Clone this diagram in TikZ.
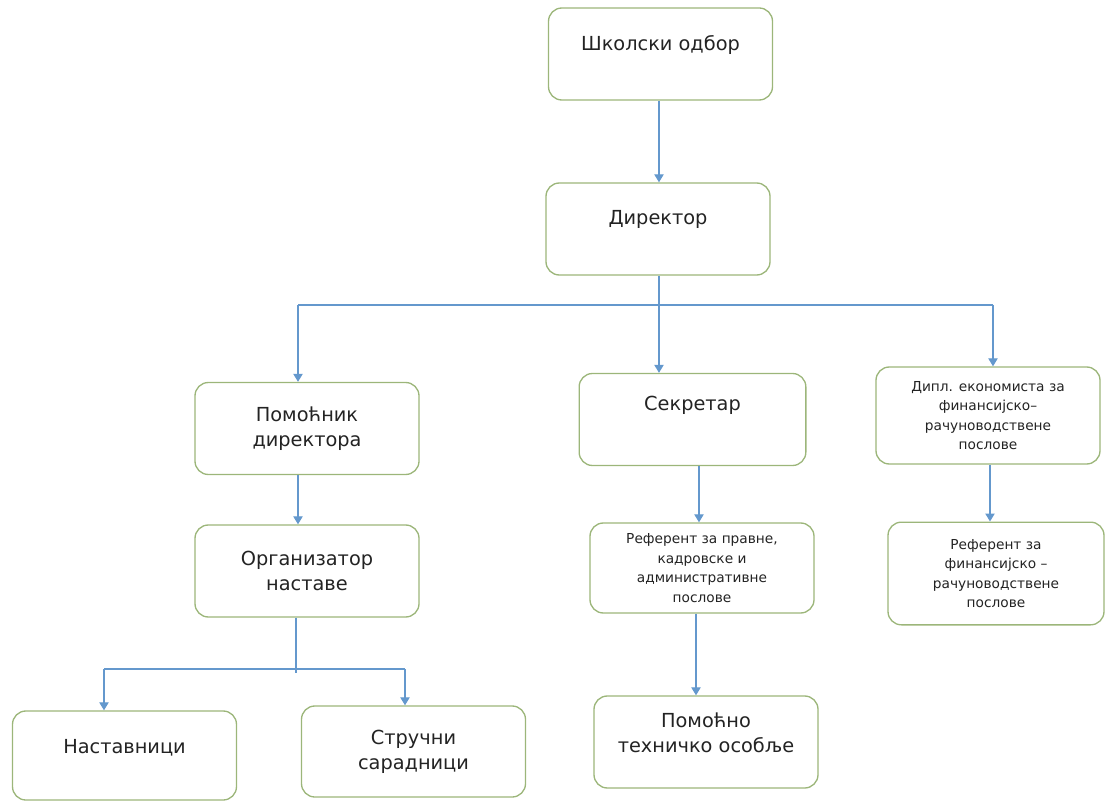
\documentclass[tikz,border=0pt]{standalone}
\usepackage{fontspec}
\setmainfont{DejaVu Sans}
\usepackage{xcolor}
\usetikzlibrary{arrows.meta}

\definecolor{okvir}{RGB}{156,182,122}
\definecolor{veza}{RGB}{100,152,205}
\definecolor{tekst}{RGB}{35,35,35}

\begin{document}
\begin{tikzpicture}[x=0.75pt, y=-0.75pt,
      box/.style={draw=okvir, line width=1pt, rounded corners=10pt, align=center, text=tekst,
        font=\fontsize{14.5pt}{19pt}\selectfont, minimum width=168pt, minimum height=69pt, inner sep=3pt},
      mali/.style={box, font=\fontsize{10.3pt}{14.6pt}\selectfont},
      lift/.style={text depth=#1},
      line/.style={draw=veza, line width=0.9pt},
      arrow/.style={line, -{Triangle[length=6pt, width=7pt]}}]
    \useasboundingbox (0,0) rectangle (1107,802);
    \node[box, lift=17pt] (skolski) at (660.5, 54) {Школски одбор};
    \node[box, lift=18pt] (direktor) at (658, 229) {Директор};
    \node[box] (pomocnik) at (307, 428.5) {Помоћник\\директора};
    \node[box, lift=24pt, minimum width=170pt] (sekretar) at (692.5, 419.5) {Секретар};
    \node[mali, minimum height=72.75pt] (dipl) at (988, 415.5) {Дипл. економиста за\\финансијско–\\рачуноводствене\\послове};
    \node[box] (organizator) at (307, 571) {Организатор\\наставе};
    \node[mali, minimum height=67.5pt] (referent) at (702, 568) {Референт за правне,\\кадровске и\\административне\\послове};
    \node[mali, minimum width=162pt, minimum height=77pt] (refFin) at (996, 573.5) {Референт за\\финансијско –\\рачуноводствене\\послове};
    \node[box, lift=14pt, minimum height=66.75pt] (nastavnici) at (124.5, 755.5) {Наставници};
    \node[box, minimum height=68.25pt] (strucni) at (413.5, 751.5) {Стручни\\сарадници};
    \node[box, lift=14pt] (osoblje) at (706, 742) {Помоћно\\техничко особље};
    % branch points
    \coordinate (gL) at (298, 305);
    \coordinate (gR) at (993, 305);
    \coordinate (gD) at (659, 305);
    \coordinate (dL) at (104, 669);
    \coordinate (dR) at (405, 669);
    \coordinate (dO) at (296, 673);
    \draw[arrow] (gD |- skolski.south) -- (gD |- direktor.north);
    \draw[arrow] (gD |- direktor.south) -- (gD |- sekretar.north);
    \draw[line] (gL) -- (gR);
    \draw[arrow] (gL) -- (gL |- pomocnik.north);
    \draw[arrow] (gR) -- (gR |- dipl.north);
    \draw[arrow] (gL |- pomocnik.south) -- (gL |- organizator.north);
    \draw[line] (dO |- organizator.south) -- (dO);
    \draw[line] (dL) -- (dR);
    \draw[arrow] (dL) -- (dL |- nastavnici.north);
    \draw[arrow] (dR) -- (dR |- strucni.north);
    \draw[arrow] (699, 0 |- sekretar.south) -- (699, 0 |- referent.north);
    \draw[arrow] (696, 0 |- referent.south) -- (696, 0 |- osoblje.north);
    \draw[arrow] (990, 0 |- dipl.south) -- (990, 0 |- refFin.north);
  \end{tikzpicture}
\end{document}
